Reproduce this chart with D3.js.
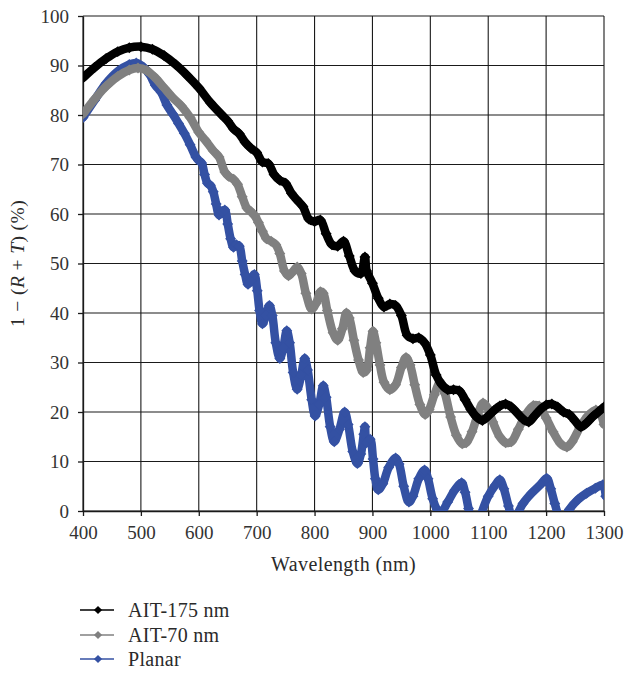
<!DOCTYPE html>
<html>
<head>
<meta charset="utf-8">
<script src="https://cdn.jsdelivr.net/npm/d3@7"></script>
<style>
  body { margin: 0; background: #fff; }
  svg { display: block; }
</style>
</head>
<body>
<div id="chart"></div>
<script>
// Size of the page
let width = 627,
  height = 676;
const margin = { top: 16, right: 23, bottom: 165, left: 83 };
const innerW = width - margin.left - margin.right;
const innerH = height - margin.top - margin.bottom;
const serif = '"Liberation Serif", "Times New Roman", "DejaVu Serif", serif';

const xTicks = [400, 500, 600, 700, 800, 900, 1000, 1100, 1200, 1300];
const yTicks = [0, 10, 20, 30, 40, 50, 60, 70, 80, 90, 100];
const seriesNames = ['AIT-175 nm', 'AIT-70 nm', 'Planar'];
const seriesColors = ['#000000', '#808080', '#3451a3'];

// AIT-175 nm
const wlBlack = [400, 420, 440, 460, 480, 500, 520, 540, 560, 580, 600, 620, 640, 650, 660, 670, 680, 690, 700,
  710, 720, 730, 740, 750, 760, 770, 780, 790, 800, 810, 820, 830, 840, 850, 860, 870, 880, 887, 890, 900,
  910, 920, 930, 940, 950, 960, 970, 980, 990, 1000, 1010, 1020, 1030, 1040, 1050, 1060, 1070, 1080, 1090,
  1100, 1110, 1120, 1130, 1140, 1150, 1160, 1170, 1180, 1190, 1200, 1210, 1220, 1230, 1240, 1250, 1260,
  1270, 1280, 1290, 1300];
const valBlack = [87.5, 89.6, 91.4, 92.8, 93.6, 93.8, 93.3, 92.0, 90.2, 88.0, 85.5, 82.5, 80.0, 78.8, 77.2, 76.2, 74.5, 73.3, 72.4,
  70.5, 70.2, 68.0, 66.8, 66.2, 64.2, 62.8, 61.5, 59.0, 58.5, 58.8, 56.0, 53.8, 53.5, 54.5, 51.5, 48.5, 48.0, 51.3, 48.5, 46.0,
  43.0, 41.2, 41.8, 41.5, 39.5, 35.5, 34.8, 35.0, 34.0, 31.5, 27.5, 25.5, 24.5, 24.5, 24.3, 22.5, 20.5, 19.0, 18.3,
  19.2, 20.3, 21.2, 21.6, 21.0, 19.8, 18.6, 18.0, 19.2, 20.5, 21.4, 21.6, 21.0, 20.0, 19.5, 18.2, 17.0,
  17.8, 19.0, 20.0, 21.0];

// AIT-70 nm
const wlGray = [400, 420, 440, 460, 480, 495, 510, 525, 540, 555, 570, 585, 600, 612, 625, 635, 645, 652, 660, 667,
  675, 683, 690, 697, 703, 710, 717, 725, 733, 740, 748, 755, 762, 770, 777, 785, 795, 803, 810, 815, 822, 832,
  840, 848, 855, 860, 868, 876, 884, 890, 896, 901, 906, 913, 920, 930, 940, 950, 958, 965, 973, 982, 991, 998,
  1007, 1017, 1025, 1035, 1045, 1055, 1062, 1072, 1082, 1091, 1098, 1108, 1120, 1130, 1140, 1152, 1165, 1178,
  1188, 1200, 1212, 1225, 1236, 1245, 1258, 1272, 1286, 1293, 1300];
const valGray = [80.2, 83.2, 85.8, 87.8, 89.1, 89.5, 89.0, 87.5, 85.5, 83.5, 81.8, 79.5, 76.5, 74.8, 72.8, 71.5, 68.5, 67.6, 67.0, 66.0,
  63.5, 61.2, 60.5, 59.6, 58.3, 56.5, 55.0, 54.5, 53.8, 52.0, 48.5, 47.5, 48.3, 49.3, 48.0, 44.0, 40.8, 42.0, 44.3, 44.0, 40.5, 36.0,
  34.5, 36.8, 40.0, 39.0, 34.5, 30.5, 28.0, 28.5, 33.0, 36.3, 34.0, 29.5, 26.0, 24.5, 25.5, 29.0, 31.0, 29.5, 25.5, 21.5, 19.5, 20.5,
  23.5, 26.0, 23.8, 19.0, 15.3, 13.6, 13.8, 16.0, 19.5, 21.8, 21.0, 18.0, 15.0, 13.8, 14.0, 16.5, 19.5, 21.3,
  21.2, 18.8, 16.0, 13.6, 12.9, 14.0, 16.8, 19.2, 20.4, 19.8, 17.5];

// Planar
const wlBlue = [400, 420, 440, 460, 480, 492, 505, 515, 525, 535, 545, 555, 565, 575, 585, 595, 600, 605, 610, 615,
  620, 625, 630, 635, 640, 645, 650, 655, 660, 665, 670, 675, 680, 685, 690, 696, 701, 705, 710, 716, 722, 727,
  733, 740, 746, 752, 757, 763, 770, 777, 783, 788, 795, 801, 808, 815, 820, 827, 834, 843, 852, 858, 866, 874,
  880, 885, 887, 890, 896, 901, 905, 910, 918, 928, 940, 946, 954, 963, 970, 980, 990, 996, 1004, 1012, 1020,
  1030, 1042, 1054, 1060, 1066, 1072, 1080, 1088, 1100, 1112, 1120, 1127, 1135, 1142, 1148, 1160, 1175, 1190,
  1201, 1208, 1215, 1222, 1230, 1240, 1255, 1270, 1285, 1298, 1303];
const valBlue = [79.5, 83.0, 86.4, 88.8, 90.2, 90.5, 89.6, 88.2, 86.0, 84.6, 82.0, 80.2, 78.3, 76.3, 74.0, 71.5, 70.8, 70.3, 68.0, 66.2,
  65.8, 64.5, 62.0, 59.8, 60.5, 60.8, 58.0, 55.0, 53.3, 53.8, 53.5, 50.5, 47.8, 45.8, 46.5, 47.8, 44.5, 40.5, 37.8, 39.5, 41.5, 39.5,
  34.0, 30.8, 33.0, 36.4, 34.0, 28.0, 24.6, 27.5, 30.8, 28.5, 22.5, 19.2, 21.5, 25.3, 23.0, 17.0, 14.0, 16.5, 20.0, 17.5, 12.0, 9.6,
  11.5, 15.5, 17.0, 13.8, 14.5, 10.5, 6.5, 4.3, 5.5, 8.8, 10.7, 9.5, 5.0, 1.8, 3.0, 6.5, 8.3, 6.5, 2.5, 0.3, 0.0,
  1.8, 4.2, 5.7, 3.8, 0.5, -2.5, -3.0, -0.5, 3.0, 5.2, 6.3, 4.5, 1.0, -1.5, -1.0, 1.5, 3.6, 5.3,
  6.6, 4.5, 1.5, -1.0, -2.0, 0.3, 2.3, 3.6, 4.6, 5.3, 3.0];

const series = [
  { name: seriesNames[0], color: seriesColors[0], data: d3.zip(wlBlack, valBlack) },
  { name: seriesNames[1], color: seriesColors[1], data: d3.zip(wlGray, valGray) },
  { name: seriesNames[2], color: seriesColors[2], data: d3.zip(wlBlue, valBlue) },
];

const svg = d3
  .select('#chart')
  .append('svg')
  .attr('xmlns', 'http://www.w3.org/2000/svg')
  .attr('width', width)
  .attr('height', height)
  .attr('font-family', serif);

const x = d3.scaleLinear().domain([400, 1300]).range([margin.left, margin.left + innerW]);
const y = d3.scaleLinear().domain([0, 100]).range([margin.top + innerH, margin.top]);

// Grid
const grid = svg.append('g').attr('stroke', '#1a1a1a').attr('stroke-width', 1.1);
grid.selectAll('line.h')
  .data(yTicks)
  .join('line')
  .attr('class', 'h')
  .attr('x1', margin.left)
  .attr('x2', margin.left + innerW)
  .attr('y1', (d) => y(d))
  .attr('y2', (d) => y(d));
grid.selectAll('line.v')
  .data(xTicks)
  .join('line')
  .attr('class', 'v')
  .attr('y1', margin.top)
  .attr('y2', margin.top + innerH)
  .attr('x1', (d) => x(d))
  .attr('x2', (d) => x(d));

// Axes
const xAxis = svg.append('g')
  .attr('transform', `translate(0,${margin.top + innerH})`)
  .call(d3.axisBottom(x).tickValues(xTicks).tickFormat(d3.format('d'))
    .tickSize(5).tickPadding(10).tickSizeOuter(0));
const yAxis = svg.append('g')
  .attr('transform', `translate(${margin.left},0)`)
  .call(d3.axisLeft(y).tickValues(yTicks).tickFormat(d3.format('d'))
    .tickSize(5).tickPadding(9).tickSizeOuter(0));
[xAxis, yAxis].forEach((a) => {
  a.attr('font-family', serif).attr('font-size', 19);
  a.select('.domain').attr('stroke', '#1a1a1a').attr('stroke-width', 1.3);
  a.selectAll('.tick line').attr('stroke', '#1a1a1a').attr('stroke-width', 1.3);
  a.selectAll('.tick text').attr('fill', '#333');
});

// Clip the curves to the plot box
svg.append('clipPath')
  .attr('id', 'plotclip')
  .append('rect')
  .attr('x', margin.left)
  .attr('y', margin.top)
  .attr('width', innerW)
  .attr('height', innerH);

const diamond = {
  draw(ctx, size) {
    const r = Math.sqrt(size / 2);
    ctx.moveTo(0, -r);
    ctx.lineTo(r, 0);
    ctx.lineTo(0, r);
    ctx.lineTo(-r, 0);
    ctx.closePath();
  },
};

const line = d3.line()
  .x((d) => x(d[0]))
  .y((d) => y(d[1]))
  .curve(d3.curveCatmullRom.alpha(0.5));

const plot = svg.append('g').attr('clip-path', 'url(#plotclip)');
// blue under gray under black
[...series].reverse().forEach((s) => {
  const g = plot.append('g');
  g.append('path')
    .attr('d', line(s.data))
    .attr('fill', 'none')
    .attr('stroke', s.color)
    .attr('stroke-width', 8.5)
    .attr('stroke-linejoin', 'round')
    .attr('stroke-linecap', 'round');
  g.selectAll('path.mark')
    .data(s.data)
    .join('path')
    .attr('class', 'mark')
    .attr('d', d3.symbol().type(diamond).size(60))
    .attr('transform', (d) => `translate(${x(d[0])},${y(d[1])})`)
    .attr('fill', s.color);
});

// Axis titles
svg.append('text')
  .attr('x', margin.left + innerW / 2)
  .attr('y', 571)
  .attr('text-anchor', 'middle')
  .attr('font-family', serif)
  .attr('font-size', 20)
  .attr('letter-spacing', 0.4)
  .attr('fill', '#2a2a2a')
  .text('Wavelength (nm)');

const yTitle = svg.append('text')
  .attr('transform', `translate(24,${margin.top + innerH / 2}) rotate(-90)`)
  .attr('text-anchor', 'middle')
  .attr('font-family', serif)
  .attr('font-size', 19.5)
  .attr('letter-spacing', 0.4)
  .attr('fill', '#2a2a2a');
yTitle.append('tspan').text('1 − (');
yTitle.append('tspan').attr('font-style', 'italic').text('R');
yTitle.append('tspan').text(' + ');
yTitle.append('tspan').attr('font-style', 'italic').text('T');
yTitle.append('tspan').text(') (%)');

// Legend
const legendY = [610, 635, 659];
const legend = svg.append('g');
series.forEach((s, i) => {
  const lg = legend.append('g').attr('transform', `translate(0,${legendY[i]})`);
  lg.append('line')
    .attr('x1', 80)
    .attr('x2', 114)
    .attr('stroke', s.color)
    .attr('stroke-width', 1.6);
  lg.append('path')
    .attr('d', d3.symbol().type(diamond).size(34))
    .attr('transform', 'translate(98,0)')
    .attr('fill', s.color);
  lg.append('text')
    .attr('x', 128)
    .attr('dy', '0.33em')
    .attr('font-family', serif)
    .attr('font-size', 20)
    .attr('letter-spacing', 0.3)
    .attr('fill', '#2a2a2a')
    .text(s.name);
});
</script>
</body>
</html>
